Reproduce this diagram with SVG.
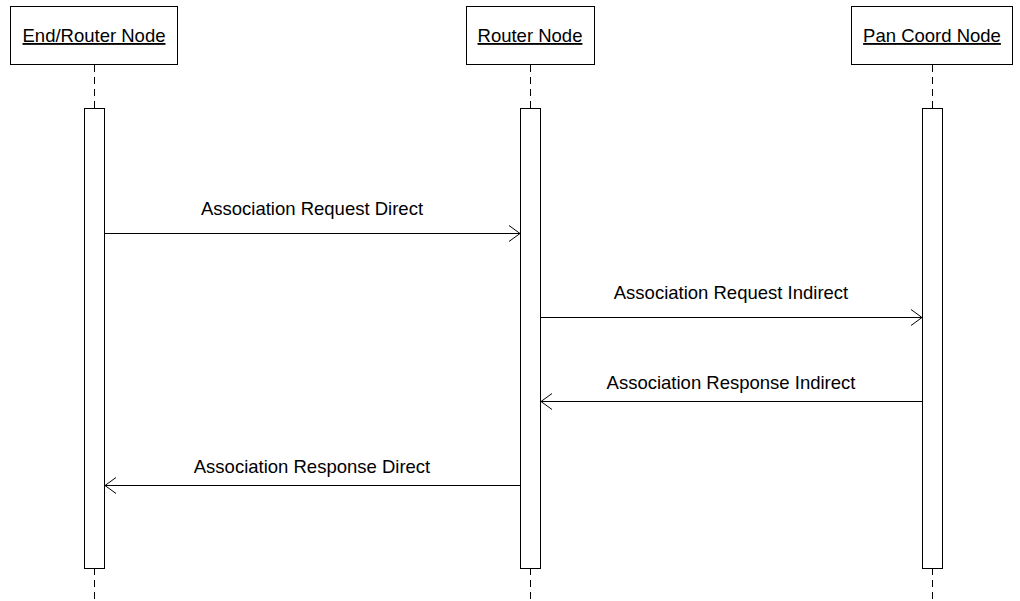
<svg xmlns="http://www.w3.org/2000/svg" width="1020" height="601" viewBox="0 0 1020 601">
<style>
.box{fill:#fff;stroke:#000;stroke-width:1}
.act{fill:#fff;stroke:#000;stroke-width:1}
.life{stroke:#000;stroke-width:1;stroke-dasharray:7,5;fill:none}
.msg{stroke:#000;stroke-width:1;fill:none}
.head{stroke:#000;stroke-width:1;fill:none}
text{font-family:"Liberation Sans",Arial,sans-serif;font-size:18.5px;fill:#000}
.t{text-anchor:middle;text-decoration:underline}
.l{text-anchor:middle}
</style>
<rect width="1020" height="601" fill="#fff"/>
<g id="node-end-router">
<line class="life" x1="94.5" y1="65" x2="94.5" y2="108"/>
<line class="life" x1="94.5" y1="568" x2="94.5" y2="601"/>
<rect class="box" x="10.5" y="6.5" width="167" height="58"/>
<text class="t" x="94" y="42">End/Router Node</text>
<rect class="act" x="84.5" y="108.5" width="20" height="460"/>
</g>
<g id="node-router">
<line class="life" x1="530.5" y1="65" x2="530.5" y2="108"/>
<line class="life" x1="530.5" y1="568" x2="530.5" y2="601"/>
<rect class="box" x="466.5" y="6.5" width="128" height="58"/>
<text class="t" x="530" y="42">Router Node</text>
<rect class="act" x="520.5" y="108.5" width="20" height="460"/>
</g>
<g id="node-pan-coord">
<line class="life" x1="932.5" y1="65" x2="932.5" y2="108"/>
<line class="life" x1="932.5" y1="568" x2="932.5" y2="601"/>
<rect class="box" x="851.5" y="6.5" width="161" height="58"/>
<text class="t" x="932" y="42">Pan Coord Node</text>
<rect class="act" x="922.5" y="108.5" width="20" height="460"/>
</g>
<g id="connectors">
<line class="msg" x1="105" y1="233.5" x2="520" y2="233.5"/>
<polyline class="head" points="509,225.5 520,233.5 509,241.5"/>
<text class="l" x="312" y="215">Association Request Direct</text>
<line class="msg" x1="541" y1="317.5" x2="922" y2="317.5"/>
<polyline class="head" points="911,309.5 922,317.5 911,325.5"/>
<text class="l" x="731" y="299">Association Request Indirect</text>
<line class="msg" x1="922" y1="401.5" x2="541" y2="401.5"/>
<polyline class="head" points="552,393.5 541,401.5 552,409.5"/>
<text class="l" x="731" y="389">Association Response Indirect</text>
<line class="msg" x1="520" y1="485.5" x2="105" y2="485.5"/>
<polyline class="head" points="116,477.5 105,485.5 116,493.5"/>
<text class="l" x="312" y="473">Association Response Direct</text>
</g>
</svg>
